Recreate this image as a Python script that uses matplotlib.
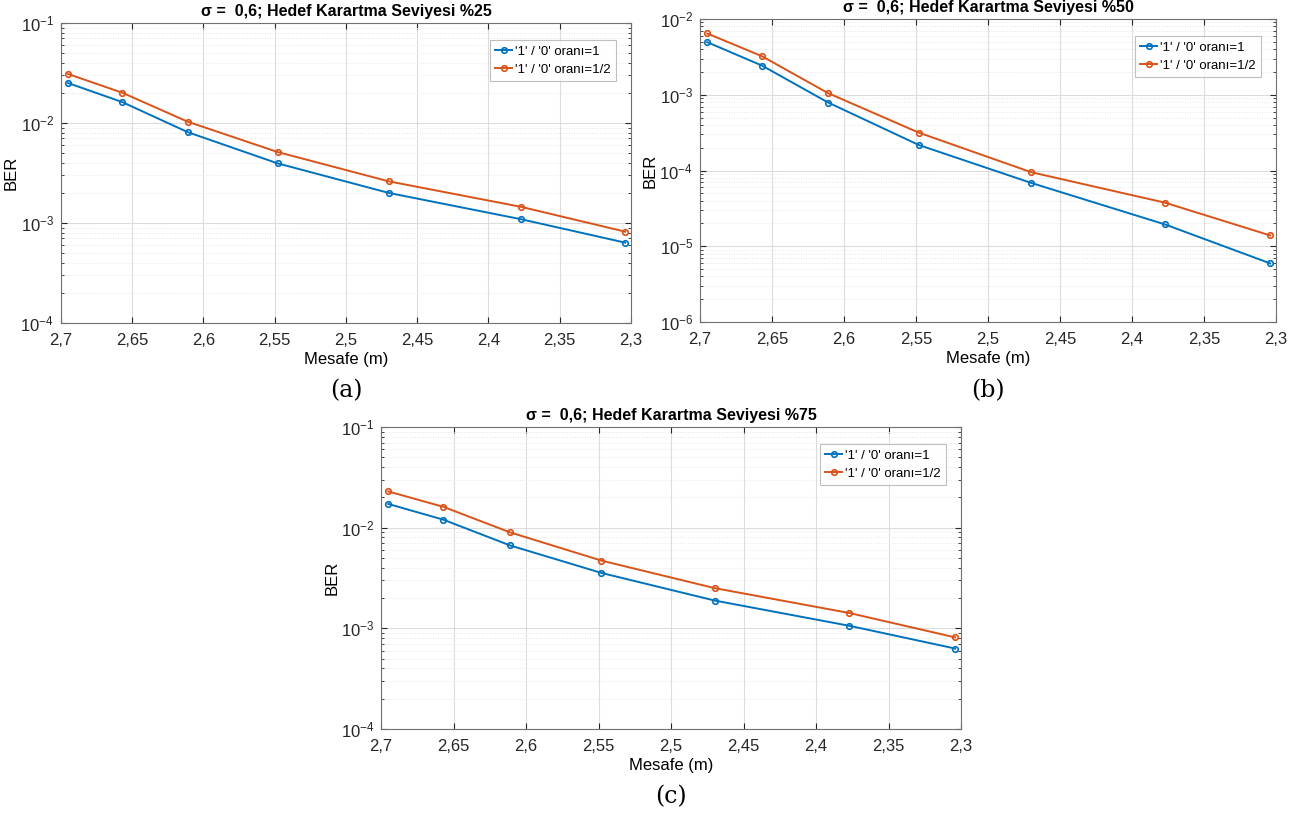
import matplotlib
matplotlib.use("Agg")
import matplotlib.pyplot as plt
from matplotlib.ticker import FuncFormatter, LogLocator, MultipleLocator

plt.rcParams['font.family'] = ['Liberation Sans', 'DejaVu Sans']

# distance (m)
mesafe = [2.695, 2.657, 2.611, 2.548, 2.470, 2.377, 2.304]

# BER, darkening level %25
ber25_r1 = [0.0251, 0.0162, 0.0081, 0.00395, 0.0020, 0.00109, 0.000636]
ber25_r12 = [0.0309, 0.0201, 0.0103, 0.00513, 0.00261, 0.00145, 0.000819]
# %50
ber50_r1 = [0.00495, 0.00243, 0.00079, 0.000217, 6.86e-5, 1.94e-5, 5.94e-6]
ber50_r12 = [0.00645, 0.00323, 0.00105, 0.000316, 9.5e-5, 3.76e-5, 1.39e-5]
# %75
ber75_r1 = [0.0172, 0.0120, 0.00666, 0.00355, 0.00189, 0.00106, 0.00063]
ber75_r12 = [0.0229, 0.0161, 0.00898, 0.00471, 0.00251, 0.00142, 0.000813]

titles = ["σ =  0,6; Hedef Karartma Seviyesi %25",
          "σ =  0,6; Hedef Karartma Seviyesi %50",
          "σ =  0,6; Hedef Karartma Seviyesi %75"]
labels = ["'1' / '0' oranı=1", "'1' / '0' oranı=1/2"]
panel_tags = ["(a)", "(b)", "(c)"]

blue = (0, 0.447, 0.741)
orange = (0.85, 0.325, 0.098)

fig = plt.figure(figsize=(13.05, 8.13), dpi=100)
positions = [[0.0467, 0.6027, 0.4368, 0.369],
             [0.5364, 0.6039, 0.4414, 0.3727],
             [0.2920, 0.1033, 0.4444, 0.3715]]
series = [(ber25_r1, ber25_r12, (1e-4, 1e-1)),
          (ber50_r1, ber50_r12, (1e-6, 1e-2)),
          (ber75_r1, ber75_r12, (1e-4, 1e-1))]


def comma_fmt(v, pos):
    return f"{v:g}".replace(".", ",")


for i, (pos, (y1, y2, ylim)) in enumerate(zip(positions, series)):
    ax = fig.add_axes(pos)
    ax.plot(mesafe, y1, '-o', color=blue, lw=1.4, ms=4, mfc='none', mew=1.2, label=labels[0])
    ax.plot(mesafe, y2, '-o', color=orange, lw=1.4, ms=4, mfc='none', mew=1.2, label=labels[1])
    ax.set_yscale('log')
    ax.set_xlim(2.7, 2.3)
    ax.set_ylim(*ylim)
    ax.xaxis.set_major_locator(MultipleLocator(0.05))
    ax.xaxis.set_major_formatter(FuncFormatter(comma_fmt))
    ax.yaxis.set_major_locator(LogLocator(base=10, numticks=10))
    ax.yaxis.set_minor_locator(LogLocator(base=10, subs=range(2, 10), numticks=20))
    ax.grid(True, which='major', color='#dcdcdc', lw=0.8)
    ax.grid(True, which='minor', axis='y', color='#e6e6e6', lw=0.7, ls=':')
    ax.set_axisbelow(True)
    ax.tick_params(which='both', direction='in', top=True, right=True,
                   colors='#262626', labelsize=12)
    ax.tick_params(axis='x', which='major', length=4, pad=7)
    ax.tick_params(axis='y', which='major', length=4, pad=5)
    ax.tick_params(which='minor', length=2.5)
    for sp in ax.spines.values():
        sp.set_color('#707070')
        sp.set_linewidth(0.8)
    ax.set_title(titles[i], fontsize=11.5, fontweight='bold', pad=5)
    ax.set_xlabel("Mesafe (m)", fontsize=12, labelpad=3)
    ax.set_ylabel("BER", fontsize=12, labelpad=1)
    leg = ax.legend(loc='upper right', fontsize=9.5, frameon=True, fancybox=False,
                    handlelength=1.3, handletextpad=0.2, borderpad=0.4,
                    labelspacing=0.45, bbox_to_anchor=(0.985, 0.965))
    leg.get_frame().set_edgecolor('#b0b0b0')
    leg.get_frame().set_linewidth(0.8)
    ax.text(0.5, -0.225, panel_tags[i], transform=ax.transAxes, ha='center', va='center',
            fontsize=17, family=['DejaVu Serif'])

plt.savefig("out.png", dpi=100)
